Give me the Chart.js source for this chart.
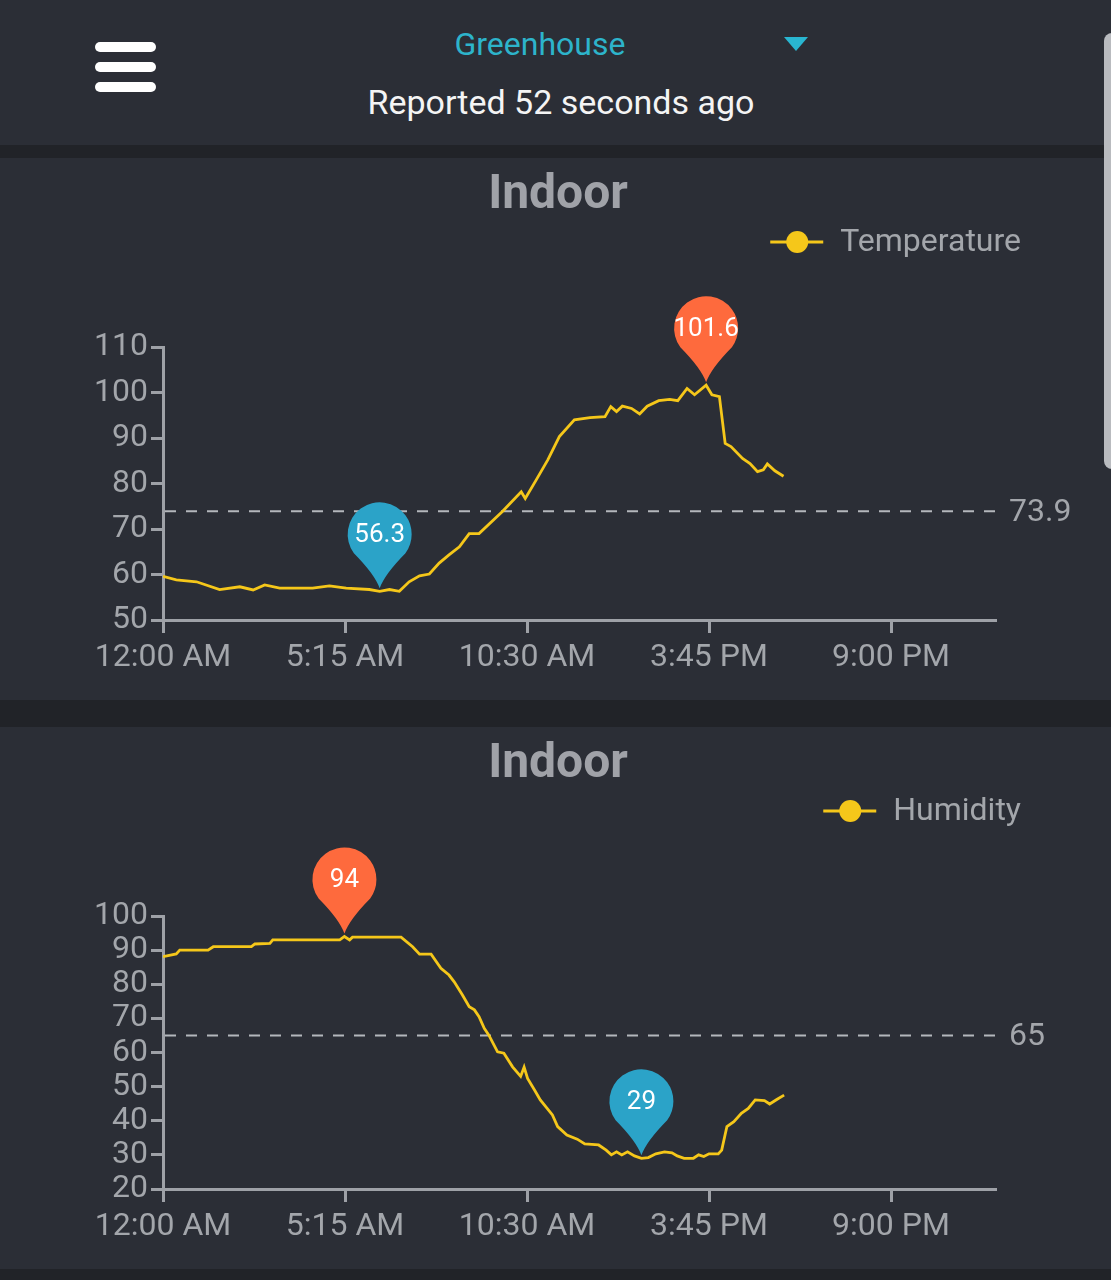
<!DOCTYPE html>
<html>
<head>
<meta charset="utf-8">
<script src="https://cdn.jsdelivr.net/npm/chart.js@4.4.1/dist/chart.umd.min.js"></script>
<style>
  body { margin: 0; width: 1111px; height: 1280px; overflow: hidden; background: #212328; position: relative; font-family: Roboto, "Noto Sans", sans-serif; }
  .header { position: absolute; left: 0; top: 0; width: 1111px; height: 145px; background: #2b2e36; }
  .bar { position: absolute; left: 95px; width: 61px; height: 10px; border-radius: 5px; background: #fff; }
  .site { position: absolute; left: 0; top: 24px; width: 1080px; line-height: 40px; text-align: center; color: #2db4cb; font-size: 32px; }
  .tri { position: absolute; left: 784px; top: 37px; width: 0; height: 0; border-left: 12px solid transparent; border-right: 12px solid transparent; border-top: 14px solid #29b6d1; }
  .reported { position: absolute; left: 0; top: 82px; width: 1122px; line-height: 40px; text-align: center; color: #f4f4f4; font-size: 34px; }
  .panel { position: absolute; left: 0; width: 1111px; height: 542px; background: #2b2e36; }
  .scroll { position: absolute; left: 1104px; top: 33px; width: 10px; height: 436px; background: #b9bbbf; border-radius: 8px 0 0 8px; }
</style>
</head>
<body>
<div class="header">
  <div class="bar" style="top:42px"></div>
  <div class="bar" style="top:62px"></div>
  <div class="bar" style="top:82px"></div>
  <div class="site">Greenhouse</div>
  <div class="tri"></div>
  <div class="reported">Reported 52 seconds ago</div>
</div>
<div class="panel" style="top:158px"><canvas id="tempChart" width="1111" height="542"></canvas></div>
<div class="panel" style="top:727px"><canvas id="humChart" width="1111" height="542"></canvas></div>
<div class="scroll"></div>
<script>
// x axis: minutes since midnight
const xTickValues = [0, 315, 630, 945, 1260];
const xTickLabels = ["12:00 AM", "5:15 AM", "10:30 AM", "3:45 PM", "9:00 PM"];

const tempTimes = [0, 23, 58, 98, 133, 156, 176, 202, 259, 288, 317, 357, 375, 392, 409, 426, 444, 461, 478, 495,
  513, 530, 547, 587, 620, 627, 646, 666, 686, 712, 739, 765, 775, 785, 795, 811, 825, 838, 858, 877,
  891, 907, 920, 940, 950, 963, 973, 983, 1003, 1016, 1029, 1039, 1046, 1059, 1074];
const tempValues = [59.6, 58.8, 58.4, 56.7, 57.3, 56.6, 57.7, 57.0, 57.0, 57.5, 57.0, 56.7, 56.3, 56.7, 56.3, 58.4, 59.7, 60.1, 62.5, 64.3,
  66.1, 69.0, 69.0, 73.8, 78.2, 76.7, 80.8, 85.2, 90.3, 94.0, 94.5, 94.7, 96.9, 95.8, 97.0, 96.5, 95.3, 97.0, 98.2, 98.5,
  98.2, 100.9, 99.5, 101.6, 99.5, 99.1, 88.8, 88.1, 85.5, 84.4, 82.6, 83.0, 84.3, 82.8, 81.6];
const tempAvg = 73.9;
const tempPins = [
  { t: 375, v: 56.3, label: "56.3", color: "#2ba3c8" },
  { t: 940, v: 101.6, label: "101.6", color: "#fe6a3d" },
];

const humTimes = [0, 23, 29, 78, 87, 153, 159, 185, 190, 306, 314, 323, 328, 412, 432, 444, 464, 481, 495, 504,
  518, 530, 539, 547, 556, 564, 579, 590, 605, 619, 625, 631, 643, 653, 674, 683, 699, 717, 730, 754,
  767, 776, 785, 794, 804, 816, 828, 840, 853, 868, 881, 890, 902, 918, 927, 936, 945, 961, 967, 976,
  988, 1001, 1013, 1025, 1041, 1050, 1063, 1075];
const humValues = [88.1, 88.9, 90.0, 90.0, 91.0, 91.0, 91.8, 92.0, 93.0, 93.0, 94.0, 93.0, 93.8, 93.8, 91.0, 88.8, 88.8, 84.7, 82.7, 80.7,
  76.9, 73.4, 72.5, 70.5, 67.1, 65.1, 60.2, 59.8, 55.8, 53.0, 55.7, 52.4, 49.0, 46.1, 41.7, 38.3, 35.8, 34.6, 33.2, 32.9,
  31.4, 30.0, 30.9, 30.0, 30.9, 29.7, 29.0, 29.2, 30.3, 30.9, 30.6, 29.7, 29.0, 29.0, 30.0, 29.5, 30.3, 30.3, 31.4, 38.3,
  39.7, 42.2, 43.6, 46.1, 45.9, 44.9, 46.3, 47.5];
const humAvg = 65;
const humPins = [
  { t: 314, v: 94, label: "94", color: "#fe6a3d" },
  { t: 828, v: 29, label: "29", color: "#2ba3c8" },
];

const AXIS = "#9ea1a7";
const TEXT = "#a3a6ab";
const LINE = "#f5c71a";
const FONT = "Roboto, 'Noto Sans', sans-serif";

function drawPin(ctx, x, y, color, text) {
  const r = 32, cy = y - 57, tipY = y - 3;
  const a = Math.acos(r / (tipY - cy));
  const lx = x + r * Math.cos(Math.PI / 2 + a), ly = cy + r * Math.sin(Math.PI / 2 + a);
  ctx.save();
  ctx.fillStyle = color;
  ctx.beginPath();
  ctx.moveTo(x, tipY);
  ctx.quadraticCurveTo(x - 5, cy + 40, lx, ly);
  ctx.arc(x, cy, r, Math.PI / 2 + a, Math.PI * 2.5 - a);
  ctx.quadraticCurveTo(x + 5, cy + 40, x, tipY);
  ctx.closePath();
  ctx.fill();
  ctx.fillStyle = "#ffffff";
  ctx.font = "26px " + FONT;
  ctx.textAlign = "center";
  ctx.textBaseline = "middle";
  ctx.fillText(text, x, cy + 1);
  ctx.restore();
}

// title, legend, average line and min/max pins
const decor = {
  id: "decor",
  beforeDatasetsDraw(chart, args, o) {
    const { ctx, chartArea, scales } = chart;
    const y = scales.y.getPixelForValue(o.avg);
    ctx.save();
    ctx.strokeStyle = "#b4b7bc";
    ctx.lineWidth = 2;
    ctx.setLineDash([11, 10]);
    ctx.beginPath();
    ctx.moveTo(chartArea.left + 2, y);
    ctx.lineTo(chartArea.right, y);
    ctx.stroke();
    ctx.setLineDash([]);
    ctx.fillStyle = TEXT;
    ctx.font = "32px " + FONT;
    ctx.textBaseline = "middle";
    ctx.fillText(String(o.avg), chartArea.right + 14, y + 2);
    ctx.restore();
  },
  afterDatasetsDraw(chart, args, o) {
    const { ctx, scales } = chart;
    o.pins.forEach((p) => drawPin(ctx, scales.x.getPixelForValue(p.t), scales.y.getPixelForValue(p.v), p.color, p.label));
  },
  afterDraw(chart, args, o) {
    const { ctx } = chart;
    ctx.save();
    ctx.fillStyle = "#a0a2a8";
    ctx.font = "bold 48px " + FONT;
    ctx.textAlign = "center";
    ctx.textBaseline = "middle";
    ctx.fillText("Indoor", 558, 38);
    // legend
    ctx.font = "32px " + FONT;
    ctx.textAlign = "right";
    ctx.fillStyle = TEXT;
    ctx.fillText(o.legend, 1021, 85);
    const w = ctx.measureText(o.legend).width;
    const right = 1021 - w - 17;
    ctx.strokeStyle = LINE;
    ctx.lineWidth = 3;
    ctx.beginPath();
    ctx.moveTo(right - 53, 84);
    ctx.lineTo(right, 84);
    ctx.stroke();
    ctx.fillStyle = LINE;
    ctx.beginPath();
    ctx.arc(right - 26, 84, 11, 0, Math.PI * 2);
    ctx.fill();
    ctx.restore();
  },
};

function makeChart(id, times, values, yMin, yMax, legend, avg, pins) {
  new Chart(document.getElementById(id), {
    type: "line",
    data: {
      datasets: [{
        label: legend,
        data: times.map((t, i) => ({ x: t, y: values[i] })),
        borderColor: LINE,
        borderWidth: 2.8,
        pointRadius: 0,
        tension: 0,
      }],
    },
    options: {
      responsive: false,
      animation: false,
      events: [],
      layout: { padding: { top: 189, right: 116, left: 0, bottom: 0 } },
      scales: {
        x: {
          type: "linear",
          min: 0,
          max: 1440,
          afterBuildTicks: (s) => { s.ticks = xTickValues.map((v) => ({ value: v })); },
          afterFit: (s) => { s.height = 80; },
          ticks: {
            color: TEXT,
            font: { family: FONT, size: 32 },
            padding: 6,
            maxRotation: 0,
            autoSkip: false,
            callback: (v) => xTickLabels[xTickValues.indexOf(v)],
          },
          grid: { drawOnChartArea: false, color: AXIS, lineWidth: 3, tickLength: 13 },
          border: { color: AXIS, width: 3 },
        },
        y: {
          min: yMin,
          max: yMax,
          afterFit: (s) => { s.width = 163; },
          ticks: { stepSize: 10, autoSkip: false, color: TEXT, font: { family: FONT, size: 32 }, padding: 3 },
          grid: { drawOnChartArea: false, color: AXIS, lineWidth: 3, tickLength: 12 },
          border: { color: AXIS, width: 3 },
        },
      },
      plugins: {
        legend: { display: false },
        tooltip: { enabled: false },
        decor: { legend, avg, pins },
      },
    },
    plugins: [decor],
  });
}

makeChart("tempChart", tempTimes, tempValues, 50, 110, "Temperature", tempAvg, tempPins);
makeChart("humChart", humTimes, humValues, 20, 100, "Humidity", humAvg, humPins);
</script>
</body>
</html>
